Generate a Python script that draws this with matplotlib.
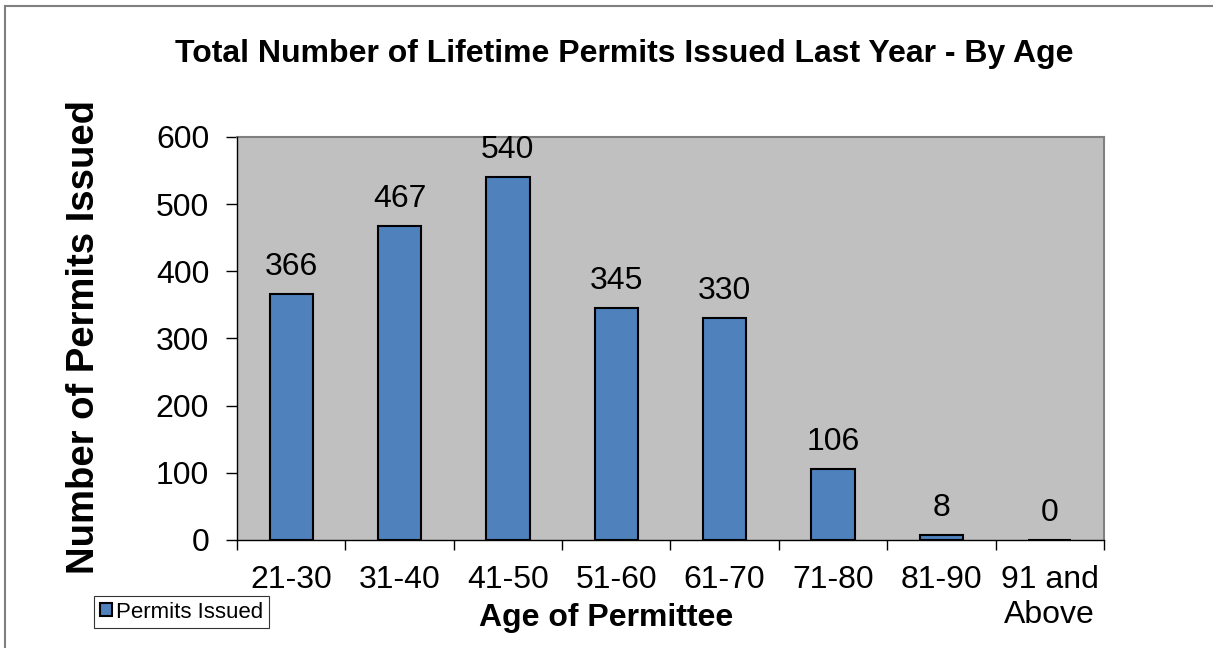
import matplotlib.pyplot as plt
from matplotlib.lines import Line2D
from matplotlib.patches import Patch

plt.rcParams["font.family"] = ["Liberation Sans", "DejaVu Sans"]

categories = ["21-30", "31-40", "41-50", "51-60", "61-70", "71-80", "81-90", "91 and\nAbove"]
permits = [366, 467, 540, 345, 330, 106, 8, 0]
yticks = [0, 100, 200, 300, 400, 500, 600]

BAR = "#4F81BD"
PLOT_BG = "#C0C0C0"

fig = plt.figure(figsize=(12.13, 6.48), dpi=100)
ax = fig.add_axes([0.1954, 0.1667, 0.7147, 0.622])
ax.set_facecolor(PLOT_BG)

x = list(range(len(categories)))
ax.bar(x, permits, width=0.4, color=BAR, edgecolor="black", linewidth=1.5, zorder=3)
for xi, v in zip(x, permits):
    ax.text(xi, v + 18, str(v), ha="center", va="bottom", fontsize=23)

ax.set_xlim(-0.5, len(categories) - 0.5)
ax.set_ylim(0, 600)
ax.set_yticks(yticks)
ax.tick_params(axis="y", labelsize=23, length=8, width=1, direction="out", pad=12)

# category labels centred, tick marks between categories
ax.set_xticks(x)
ax.set_xticklabels(categories, fontsize=23, linespacing=1.2, va="top")
ax.tick_params(axis="x", length=0, pad=18)
ax.set_xticks([i - 0.5 for i in range(len(categories) + 1)], minor=True)
ax.tick_params(axis="x", which="minor", length=7, width=1, direction="out")

for s in ("top", "right"):
    ax.spines[s].set_color("#808080")
    ax.spines[s].set_linewidth(1.5)
for s in ("left", "bottom"):
    ax.spines[s].set_color("black")
    ax.spines[s].set_linewidth(1.0)
    ax.spines[s].set_zorder(4)

fig.text(0.515, 0.917, "Total Number of Lifetime Permits Issued Last Year - By Age",
         ha="center", va="center", fontsize=23, fontweight="bold")
fig.text(0.5, 0.047, "Age of Permittee", ha="center", va="center",
         fontsize=23, fontweight="bold")
fig.text(0.069, 0.48, "Number of Permits Issued", ha="center", va="center",
         rotation=90, fontsize=27.5, fontweight="bold")

handle = Patch(facecolor=BAR, edgecolor="black", linewidth=1.5)
leg = fig.legend([handle], ["Permits Issued"], loc="center",
                 bbox_to_anchor=(0.1497, 0.0555), fontsize=16, frameon=True,
                 fancybox=False, handlelength=0.55, handleheight=0.55,
                 handletextpad=0.2, borderpad=0.25, borderaxespad=0)
leg.get_frame().set_edgecolor("black")
leg.get_frame().set_linewidth(0.8)

# outer chart border (top and left visible)
fig.add_artist(Line2D([0.0045, 1.0], [0.9915, 0.9915], color="#808080", lw=1.5,
                      transform=fig.transFigure))
fig.add_artist(Line2D([0.0045, 0.0045], [0.0, 0.9915], color="#808080", lw=1.5,
                      transform=fig.transFigure))

fig.savefig("out.png", dpi=100)
